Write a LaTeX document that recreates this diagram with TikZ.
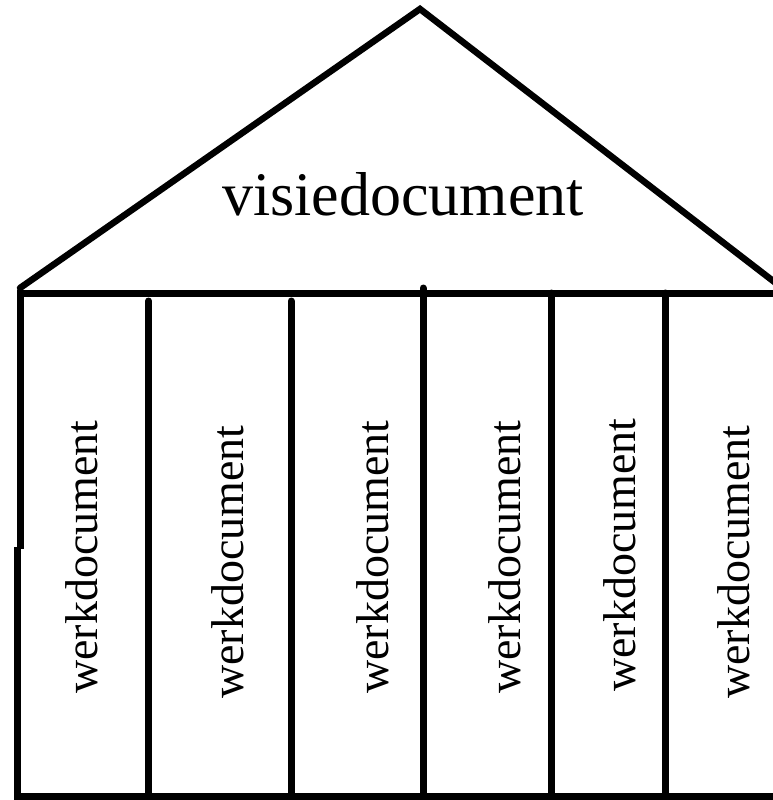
\documentclass[tikz,border=0pt]{standalone}
\usepackage{fontspec}
\setmainfont{Liberation Serif}
\begin{document}
\begin{tikzpicture}[x=1pt,y=-1pt,
  wall/.style={line width=7pt,line cap=round,line join=round},
  roofline/.style={line width=6.5pt,line cap=round,line join=miter},
  pillar/.style={rotate=90,anchor=base,inner sep=0pt,font=\fontsize{46}{50}\selectfont},
  title/.style={anchor=base,inner sep=0pt,font=\fontsize{62}{70}\selectfont}]
\useasboundingbox (0,0) rectangle (773,800);
% roof
\draw[roofline] (20,288) -- (420,9) -- (790,294);
% beam
\draw[wall,line cap=butt] (17,293) -- (773,293);
% left wall (slightly offset lower part)
\draw[wall,line cap=butt] (20.5,290) -- (20.5,549);
\draw[wall,line cap=butt] (17.5,547) -- (17.5,800);
% floor
\draw[wall,line cap=butt] (14,796.5) -- (773,796.5);
% pillars
\draw[wall] (148.5,301) -- (148.5,796);
\draw[wall] (291,301) -- (291,796);
\draw[wall] (423,288) -- (423,796);
\draw[wall] (551.5,293) -- (551.5,796);
\draw[wall] (665,293) -- (665,796);
% texts
\node[title] (visie) at (403,215) {visiedocument};
\node[pillar] (w1) at (97,557) {werkdocument};
\node[pillar] (w2) at (243,562) {werkdocument};
\node[pillar] (w3) at (388,557) {werkdocument};
\node[pillar] (w4) at (520,557) {werkdocument};
\node[pillar] (w5) at (635,555) {werkdocument};
\node[pillar] (w6) at (749,562) {werkdocument};
\end{tikzpicture}
\end{document}
